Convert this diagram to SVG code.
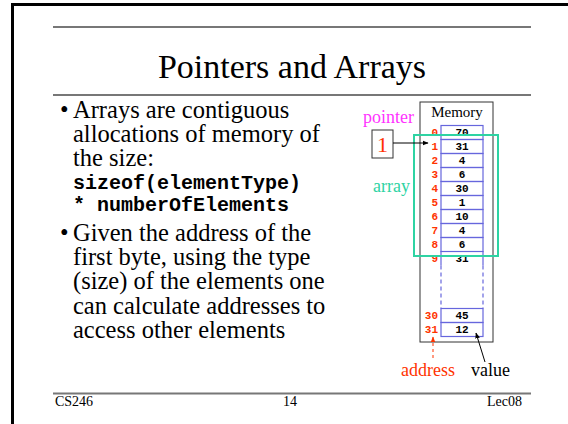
<svg xmlns="http://www.w3.org/2000/svg" width="568" height="424" viewBox="0 0 568 424">
<defs>
<style>
.rule{stroke:#777;stroke-width:2;fill:none}
.serif{font-family:"Liberation Serif","Times New Roman",serif}
.mono{font-family:"Liberation Mono","Courier New",monospace;font-weight:bold}
.body{font-size:24.5px;fill:#000}
.code{font-size:20px;fill:#000}
.cell{fill:none;stroke:#6666dd;stroke-width:1.2}
.addr{font-size:11px;fill:#ff3300;text-anchor:end}
.val{font-size:11px;fill:#000;text-anchor:middle}
.lbl{font-size:18px}
</style>
<marker id="ahBlack" viewBox="0 0 10 10" refX="9" refY="5" markerWidth="6" markerHeight="6" orient="auto"><path d="M0,1 L10,5 L0,9 z" fill="#000"/></marker>
<marker id="ahRed" viewBox="0 0 10 10" refX="9" refY="5" markerWidth="6" markerHeight="6" orient="auto"><path d="M0,1 L10,5 L0,9 z" fill="#ff3300"/></marker>
</defs>
<rect width="568" height="424" fill="#fff"/>
<path d="M12.5,430 V4.5 H575" fill="none" stroke="#000" stroke-width="3"/>
<line class="rule" x1="53" y1="27" x2="531" y2="27"/>
<line class="rule" x1="53" y1="95" x2="531" y2="95"/>
<line class="rule" x1="53" y1="393.5" x2="531" y2="393.5"/>
<text class="serif" x="292" y="78" font-size="34" text-anchor="middle">Pointers and Arrays</text>
<g id="bullets" class="serif body">
<text x="60" y="118">•</text>
<text x="73" y="118">Arrays are contiguous</text>
<text x="73" y="142">allocations of memory of</text>
<text x="73" y="166">the size:</text>
<text x="60" y="241">•</text>
<text x="73" y="241">Given the address of the</text>
<text x="73" y="265">first byte, using the type</text>
<text x="73" y="289">(size) of the elements one</text>
<text x="73" y="314">can calculate addresses to</text>
<text x="73" y="338">access other elements</text>
</g>
<g id="code" class="mono code">
<text x="73" y="189">sizeof(elementType)</text>
<text x="73" y="211">* numberOfElements</text>
</g>
<g id="footer" class="serif" font-size="14">
<text x="55" y="406">CS246</text>
<text x="290" y="406" text-anchor="middle">14</text>
<text x="522" y="406" text-anchor="end">Lec08</text>
</g>
<g id="memory">
<rect x="420" y="102" width="73" height="240" fill="none" stroke="#333" stroke-width="1"/>
<text class="serif" x="457" y="117" font-size="15" text-anchor="middle">Memory</text>
<g id="cells">
<rect class="cell" x="441" y="125.5" width="42" height="14"/>
<rect class="cell" x="441" y="139.5" width="42" height="14"/>
<rect class="cell" x="441" y="153.5" width="42" height="14"/>
<rect class="cell" x="441" y="167.5" width="42" height="14"/>
<rect class="cell" x="441" y="181.5" width="42" height="14"/>
<rect class="cell" x="441" y="195.5" width="42" height="14"/>
<rect class="cell" x="441" y="209.5" width="42" height="14"/>
<rect class="cell" x="441" y="223.5" width="42" height="14"/>
<rect class="cell" x="441" y="237.5" width="42" height="14"/>
<path class="cell" d="M441,265.5 V251.5 H483 V265.5"/>
<path class="cell" d="M441,265.5 V308.5 M483,265.5 V308.5" stroke-dasharray="4,3"/>
<rect class="cell" x="441" y="308.5" width="42" height="14"/>
<rect class="cell" x="441" y="322.5" width="42" height="14"/>
</g>
<g class="mono val">
<text x="462" y="136">70</text>
<text x="462" y="150">31</text>
<text x="462" y="164">4</text>
<text x="462" y="178">6</text>
<text x="462" y="192">30</text>
<text x="462" y="206">1</text>
<text x="462" y="220">10</text>
<text x="462" y="234">4</text>
<text x="462" y="248">6</text>
<text x="462" y="262">31</text>
<text x="462" y="319">45</text>
<text x="462" y="333">12</text>
</g>
<g class="mono addr">
<text x="438" y="136">0</text>
<text x="438" y="150">1</text>
<text x="438" y="164">2</text>
<text x="438" y="178">3</text>
<text x="438" y="192">4</text>
<text x="438" y="206">5</text>
<text x="438" y="220">6</text>
<text x="438" y="234">7</text>
<text x="438" y="248">8</text>
<text x="438" y="262">9</text>
<text x="438" y="319">30</text>
<text x="438" y="333">31</text>
</g>
</g>
<g id="array">
<rect x="414" y="135" width="84" height="121" fill="none" stroke="#2ed3a3" stroke-width="2"/>
<text class="serif lbl" x="373" y="192" fill="#2ed3a3">array</text>
</g>
<g id="pointer">
<text class="serif lbl" x="363" y="123" fill="#ff33ff">pointer</text>
<rect x="372" y="130" width="21" height="28" fill="#fff" stroke="#333" stroke-width="1"/>
<text class="serif" x="382.5" y="152" font-size="22" fill="#ff3300" text-anchor="middle">1</text>
</g>
<g id="labels">
<text class="serif lbl" x="401" y="376" fill="#ff3300">address</text>
<text class="serif lbl" x="471" y="376" fill="#000">value</text>
</g>
<g id="connectors">
<line x1="393" y1="143" x2="428" y2="143" stroke="#000" stroke-width="1" marker-end="url(#ahBlack)"/>
<line x1="433" y1="358" x2="433" y2="337" stroke="#ff3300" stroke-width="1" stroke-dasharray="3,3" marker-end="url(#ahRed)"/>
<line x1="485" y1="362" x2="476" y2="333" stroke="#000" stroke-width="1" marker-end="url(#ahBlack)"/>
</g>
</svg>
